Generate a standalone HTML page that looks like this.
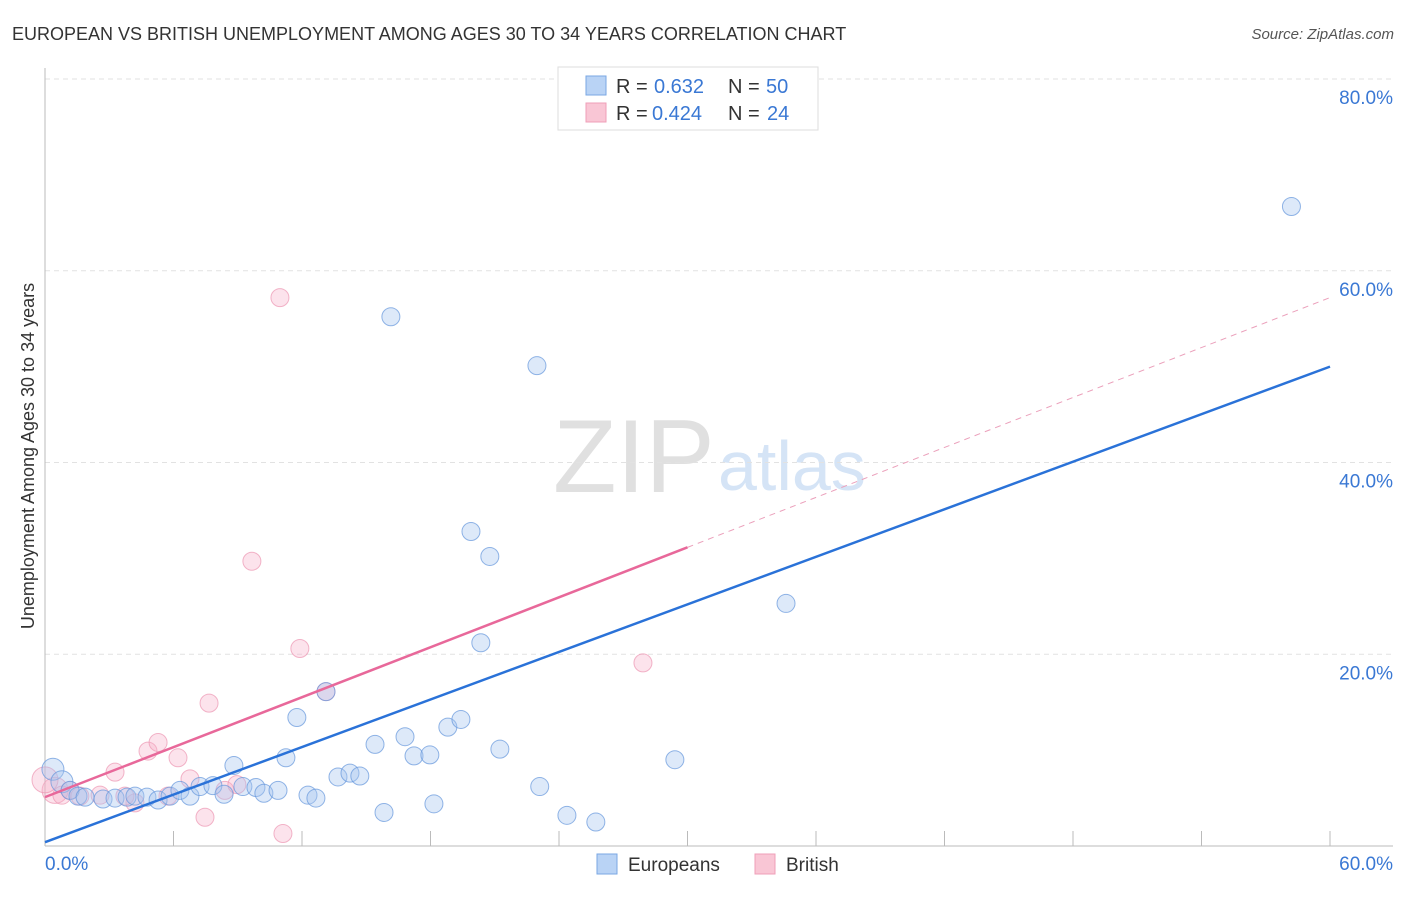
<!DOCTYPE html>
<html><head><meta charset="utf-8"><style>
body{margin:0;background:#fff;font-family:"Liberation Sans",sans-serif}
svg text{font-family:"Liberation Sans",sans-serif}
</style></head><body>
<svg id="c" width="1406" height="892" xmlns="http://www.w3.org/2000/svg">
<text x="12" y="40" font-size="18" fill="#333">EUROPEAN VS BRITISH UNEMPLOYMENT AMONG AGES 30 TO 34 YEARS CORRELATION CHART</text>
<text x="1394" y="39" font-size="15" fill="#555" font-style="italic" text-anchor="end">Source: ZipAtlas.com</text>
<text x="553" y="492" font-size="104" fill="#e0e0e0" font-family="Liberation Serif">ZIP</text>
<text x="718" y="490" font-size="70" fill="#d5e4f6">atlas</text>
<g id="grid"></g><g id="marks"></g>
<text transform="translate(34,456) rotate(-90)" font-size="18" fill="#333" text-anchor="middle">Unemployment Among Ages 30 to 34 years</text>
<g>
<rect x="558" y="67" width="260" height="63" fill="#fff" stroke="#ddd"/>
<rect x="586" y="76" width="20" height="19" fill="#b9d3f5" stroke="#7aa7e3"/>
<rect x="586" y="103" width="20" height="19" fill="#f9c6d5" stroke="#ef9fb8"/>
<text x="616" y="93" font-size="20" fill="#333">R =</text>
<text x="654" y="93" font-size="20" fill="#3a78d4">0.632</text>
<text x="728" y="93" font-size="20" fill="#333">N =</text>
<text x="766" y="93" font-size="20" fill="#3a78d4">50</text>
<text x="616" y="120" font-size="20" fill="#333">R =</text>
<text x="652" y="120" font-size="20" fill="#3a78d4">0.424</text>
<text x="728" y="120" font-size="20" fill="#333">N =</text>
<text x="767" y="120" font-size="20" fill="#3a78d4">24</text>
</g>
<g>
<rect x="597" y="854" width="20" height="20" fill="#b9d3f5" stroke="#7aa7e3"/>
<text x="628" y="871" font-size="19" fill="#333">Europeans</text>
<rect x="755" y="854" width="20" height="20" fill="#f9c6d5" stroke="#ef9fb8"/>
<text x="786" y="871" font-size="19" fill="#333">British</text>
</g>
</svg>
<script>
const xTickLabels=["0.0%","60.0%"];
const yTicks=[20,40,60,80];
const euroX=[0.37,0.79,1.17,1.54,1.87,2.71,3.27,3.83,4.2,4.76,5.28,5.84,6.3,6.77,7.24,7.84,8.36,8.82,9.24,9.85,10.22,10.88,11.25,11.76,12.28,12.65,13.12,13.68,14.24,14.7,15.41,15.83,16.15,16.81,17.23,17.97,18.16,18.81,19.42,19.89,20.35,20.77,21.24,22.97,23.1,24.37,25.72,29.41,34.6,58.2];
const euroY=[8.0,6.7,5.8,5.2,5.1,4.9,5.0,5.1,5.2,5.1,4.8,5.2,5.8,5.2,6.2,6.3,5.4,8.4,6.2,6.1,5.5,5.8,9.2,13.4,5.3,5.0,16.1,7.2,7.6,7.3,10.6,3.5,55.2,11.4,9.4,9.5,4.4,12.4,13.2,32.8,21.2,30.2,10.1,50.1,6.2,3.2,2.5,9.0,25.3,66.7];
const britX=[0.47,0.79,1.17,1.63,2.57,3.27,4.2,4.81,5.28,5.74,6.21,6.77,7.47,7.66,8.4,8.96,9.66,10.97,11.11,11.9,13.12,27.92,0,3.73];
const britY=[5.8,5.3,5.8,5.2,5.3,7.7,4.5,9.9,10.8,5.2,9.2,7.0,3.0,14.9,5.8,6.4,29.7,57.2,1.3,20.6,16.1,19.1,6.9,5.2];
const euroTrend=[0.4,50.0];
const britTrend=[5.1,57.2];
const britSolidEnd=30;
const X=v=>45+v*(1285/60), Y=v=>846-v*(767/80);
const NS="http://www.w3.org/2000/svg";
const grid=document.getElementById('grid'), marks=document.getElementById('marks');
function mk(p,tag,a){const e=document.createElementNS(NS,tag);for(const k in a)e.setAttribute(k,a[k]);p.appendChild(e);return e;}
yTicks.forEach(t=>{
 const l=mk(grid,'line',{x1:45,x2:1393,y1:Y(t),y2:Y(t),stroke:'#e2e2e2','stroke-dasharray':'5,4'});
 
 
 const tx=mk(grid,'text',{x:1393,y:Y(t)+25,'font-size':19,fill:'#3a78d4','text-anchor':'end'});
 tx.textContent=t.toFixed(1)+'%';
 
 
});
mk(grid,'line',{x1:45,x2:45,y1:68,y2:846,stroke:'#bbb'});
mk(grid,'line',{x1:45,x2:1393,y1:846,y2:846,stroke:'#bbb'});
for(let i=1;i<=10;i++){const tk=mk(grid,'line',{x1:X(i*6),x2:X(i*6),y1:831,y2:846,stroke:'#bbb'});
 
 }
[[0,'start',45],[60,'end',1393]].forEach((d,i)=>{const tx=mk(grid,'text',{x:d[2],y:870,'font-size':19,fill:'#3a78d4','text-anchor':d[1]});
 tx.textContent=xTickLabels[i];
 
 });
britX.forEach((x,i)=>{const big=(i==0||i==22);const c=mk(marks,'circle',{cx:X(x),cy:Y(britY[i]),r:big?13:9,fill:'rgba(246,175,200,0.35)',stroke:'rgba(236,150,178,0.7)','stroke-width':1});
 
 });
euroX.forEach((x,i)=>{const c=mk(marks,'circle',{cx:X(x),cy:Y(euroY[i]),r:(i<2?11:9),fill:'rgba(165,198,240,0.38)',stroke:'rgba(100,150,220,0.7)','stroke-width':1});
 
 });
const by=x=>britTrend[0]+(britTrend[1]-britTrend[0])*x/60;
let l=mk(marks,'line',{x1:X(0),y1:Y(by(0)),x2:X(britSolidEnd),y2:Y(by(britSolidEnd)),stroke:'#e8689a','stroke-width':2.5});


l=mk(marks,'line',{x1:X(britSolidEnd),y1:Y(by(britSolidEnd)),x2:X(60),y2:Y(by(60)),stroke:'#eba0bb','stroke-width':1,'stroke-dasharray':'6,5'});


l=mk(marks,'line',{x1:X(0),y1:Y(euroTrend[0]),x2:X(60),y2:Y(euroTrend[1]),stroke:'#2a72d8','stroke-width':2.5});


</script>
</body></html>
